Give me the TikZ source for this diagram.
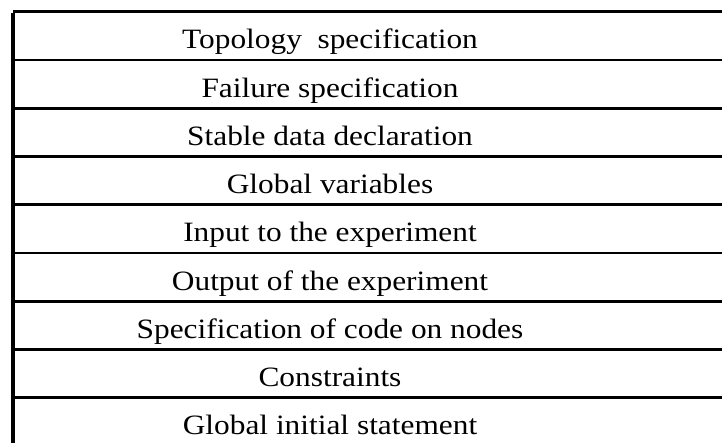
\documentclass[tikz,border=0pt]{standalone}
\usepackage{fontspec}
\setmainfont{Liberation Serif}[FakeStretch=1.12]
\usetikzlibrary{positioning}

\begin{document}
\begin{tikzpicture}[x=1pt, y=-1pt, font=\fontsize{28}{32}\selectfont,
  layer/.style = {minimum width=634pt, minimum height=47.85pt, inner sep=0pt,
    text height=28pt, text depth=2pt, anchor=north},
  rule/.style = {line width=2.8pt}
]
\useasboundingbox (0,0) rectangle (726,443);
% the stack of layers, top to bottom
\node[layer] (l1) at (330,11.7) {Topology\ \ specification};
\node[layer, below=0pt of l1] (l2) {Failure specification};
\node[layer, below=0pt of l2] (l3) {Stable data declaration};
\node[layer, below=0pt of l3] (l4) {Global variables};
\node[layer, below=0pt of l4] (l5) {Input to the experiment};
\node[layer, below=0pt of l5] (l6) {Output of the experiment};
\node[layer, below=0pt of l6] (l7) {Specification of code on nodes};
\node[layer, below=0pt of l7] (l8) {Constraints};
\node[layer, below=0pt of l8] (l9) {Global initial statement};
\coordinate (edge) at (722,0);
% rules between the layers
\foreach \i in {1,...,9}
  \draw[rule] (l\i.north west) -- (l\i.north west -| edge);
\draw[rule] (l9.south west) -- (l9.south west -| edge);
\draw[line width=3.5pt] ([yshift=-1pt]l1.north west) -- (l9.south west);
\end{tikzpicture}
\end{document}
